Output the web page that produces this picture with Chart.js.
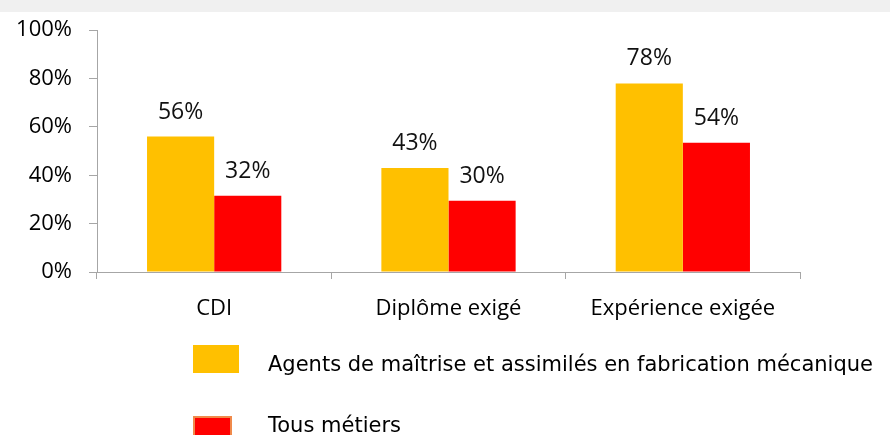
<!DOCTYPE html>
<html lang="fr">
  <head>
    <meta charset="UTF-8" />
    <title>Conditions d'embauche</title>
    <script src="https://cdn.jsdelivr.net/npm/chart.js"></script>
    <style>
      html, body { margin: 0; padding: 0; background: #fff; }
      #wrap { position: relative; width: 890px; height: 435px; overflow: hidden; }
      #strip { position: absolute; left: 0; top: 0; width: 890px; height: 12px; background: #f0f0f0; }
      #chart { position: absolute; left: 0; top: 0; }
    </style>
  </head>
  <body>
    <div id="wrap">
      <div id="strip"></div>
      <canvas id="chart" width="890" height="435"></canvas>
    </div>

    <script>
      // données (en %)
      const categories = ["CDI", "Diplôme exigé", "Expérience exigée"];
      const agents = [56, 43, 78];
      const tous = [31.5, 29.5, 53.5];
      const seriesNames = [
        "Agents de maîtrise et assimilés en fabrication mécanique",
        "Tous métiers",
      ];
      const yTicks = [0, 20, 40, 60, 80, 100];

      const axisColor = "#a6a6a6";
      const mainFont = { family: "'Open Sans', sans-serif", size: 22 };

      // étiquettes au-dessus des barres
      const valueLabels = {
        id: "valueLabels",
        afterDatasetsDraw(chart) {
          const ctx = chart.ctx;
          ctx.save();
          ctx.fillStyle = "#111";
          ctx.font = "23px 'Open Sans', sans-serif";
          ctx.textAlign = "center";
          ctx.textBaseline = "alphabetic";
          chart.data.datasets.forEach((ds, i) => {
            chart.getDatasetMeta(i).data.forEach((bar, j) => {
              ctx.fillText(Math.round(ds.data[j]) + "%", bar.x, bar.y - 18);
            });
          });
          ctx.restore();
        },
      };

      // légende dessinée sous le graphique
      const bottomLegend = {
        id: "bottomLegend",
        afterDraw(chart) {
          const ctx = chart.ctx;
          ctx.save();
          ctx.font = "21px 'DejaVu Sans', sans-serif";
          ctx.textBaseline = "alphabetic";
          ctx.textAlign = "left";
          chart.data.datasets.forEach((ds, i) => {
            const top = i === 0 ? 345 : 416;
            const w = i === 0 ? 46 : 39;
            ctx.fillStyle = ds.backgroundColor;
            ctx.fillRect(193, top, w, 28);
            if (i === 1) {
              ctx.strokeStyle = "#f08a4b";
              ctx.lineWidth = 2;
              ctx.strokeRect(194, top + 1, w - 2, 28);
            }
            ctx.fillStyle = "#000";
            ctx.fillText(ds.label, 268, i === 0 ? 371 : 432);
          });
          ctx.restore();
        },
      };

      new Chart(document.getElementById("chart"), {
        type: "bar",
        data: {
          labels: categories,
          datasets: [
            {
              label: seriesNames[0],
              data: agents,
              backgroundColor: "#ffc000",
            },
            {
              label: seriesNames[1],
              data: tous,
              backgroundColor: "#ff0000",
            },
          ],
        },
        options: {
          responsive: false,
          animation: false,
          categoryPercentage: 0.573,
          barPercentage: 1,
          layout: { padding: { top: 29, right: 90, bottom: 0, left: 0 } },
          plugins: {
            legend: { display: false },
            tooltip: { enabled: false },
          },
          scales: {
            x: {
              afterFit: (s) => { s.height = 163; },
              grid: {
                offset: true,
                drawOnChartArea: false,
                drawTicks: true,
                tickLength: 7,
                color: axisColor,
              },
              border: { color: axisColor },
              ticks: { color: "#000", font: mainFont, padding: 17 },
            },
            y: {
              min: 0,
              max: 100,
              afterFit: (s) => { s.width = 97; },
              afterBuildTicks: (s) => { s.ticks = yTicks.map((v) => ({ value: v })); },
              grid: {
                drawOnChartArea: false,
                drawTicks: true,
                tickLength: 8,
                color: axisColor,
              },
              border: { color: axisColor },
              ticks: {
                color: "#000",
                font: mainFont,
                padding: 17,
                callback: (v) => v + "%",
              },
            },
          },
        },
        plugins: [valueLabels, bottomLegend],
      });
    </script>
  </body>
</html>
